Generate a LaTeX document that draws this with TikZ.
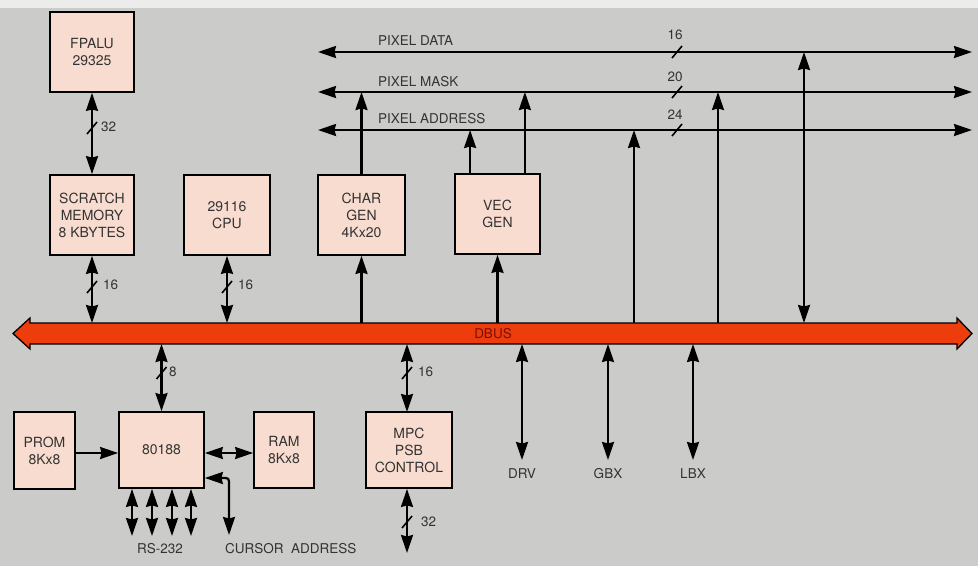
\documentclass[tikz,border=0pt]{standalone}
\usepackage{fontspec}
\setmainfont{TeX Gyre Heros}
\usetikzlibrary{arrows.meta}
\definecolor{bg}{HTML}{CBCBC9}
\definecolor{topstrip}{HTML}{ECECEA}
\definecolor{boxfill}{HTML}{F8DCCF}
\definecolor{txt}{HTML}{333333}
\definecolor{busred}{HTML}{EE3D0C}
\definecolor{bustxt}{HTML}{7A1005}
\begin{document}
\begin{tikzpicture}[x=1pt,y=-1pt,
  >={Stealth[length=18pt,width=12pt,inset=1.5pt]},
  box/.style={draw=black, line width=1.8pt, fill=boxfill, text=txt, align=center,
    inner sep=0pt, font=\fontsize{14}{17}\selectfont},
  conn/.style={line width=2.2pt, draw=black},
  lbl/.style={text=txt, font=\fontsize{13.5}{15}\selectfont, inner sep=0pt},
  busslash/.pic={\draw[line width=1.6pt] (-5,6) -- (5,-6);}
]
% background
\useasboundingbox (0,0) rectangle (978,566);
\fill[bg] (0,0) rectangle (978,566);
\fill[topstrip] (0,0) rectangle (978,8);

% DBUS
\filldraw[fill=busred, draw=black, line width=1.3pt]
  (13,333.5) -- (30,318) -- (30,323) -- (957,323) -- (957,318) -- (972,333.5)
  -- (957,349) -- (957,344) -- (30,344) -- (30,349) -- cycle;
\node[text=bustxt, font=\fontsize{13.5}{15}\selectfont, inner sep=0pt] (dbus) at (493,333.5) {DBUS};
\coordinate (dbt) at (0,323);
\coordinate (dbb) at (0,344);

% pixel buses
\coordinate (pdL) at (318,52);  \coordinate (pdR) at (972,52);
\coordinate (pmL) at (318,92);  \coordinate (pmR) at (972,92);
\coordinate (paL) at (318,130); \coordinate (paR) at (972,130);
\draw[conn,<->] (pdL) -- (pdR);
\draw[conn,<->] (pmL) -- (pmR);
\draw[conn,<->] (paL) -- (paR);
\node[lbl, anchor=west] (lpd) at (378,41) {PIXEL DATA};
\node[lbl, anchor=west] (lpm) at (378,82) {PIXEL MASK};
\node[lbl, anchor=west] (lpa) at (378,119) {PIXEL ADDRESS};
\pic at (677,52) {busslash};
\pic at (677,92) {busslash};
\pic at (677,130) {busslash};
\node[lbl] (w16) at (675,35) {16};
\node[lbl] (w20) at (675,77) {20};
\node[lbl] (w24) at (675,115) {24};

% upper boxes
\node[box, minimum width=84pt, minimum height=80pt] (fpalu) at (92,52) {FPALU\\29325};
\node[box, minimum width=84pt, minimum height=80pt] (scratch) at (92,215) {SCRATCH\\MEMORY\\8 KBYTES};
\node[box, minimum width=86pt, minimum height=80pt] (cpu) at (227,215) {29116\\CPU};
\node[box, minimum width=87pt, minimum height=80pt] (chargen) at (361.5,215) {CHAR\\GEN\\4Kx20};
\node[box, minimum width=85pt, minimum height=80pt] (vecgen) at (497.5,214) {VEC\\GEN};

% upper connectors
\draw[conn,<->] (fpalu.south) -- (scratch.north);
\pic at (92,128) {busslash};
\node[lbl, anchor=west] (l32a) at (101,127) {32};

\draw[conn,<->] (scratch.south) -- (scratch.south |- dbt);
\pic at (92,287) {busslash};
\node[lbl, anchor=west] (l16a) at (103,285) {16};

\draw[conn,<->] (cpu.south) -- (cpu.south |- dbt);
\pic at (227,287) {busslash};
\node[lbl, anchor=west] (l16b) at (238,285) {16};

\draw[conn,->] (chargen.south |- dbt) -- (chargen.south);
\draw[conn,->] (chargen.north) -- (chargen.north |- pmL);

\draw[conn,->] (vecgen.south |- dbt) -- (vecgen.south);
\draw[conn,->] ([xshift=16pt]vecgen.north west) -- ([xshift=16pt]vecgen.north west |- paL);
\draw[conn,->] ([xshift=-16pt]vecgen.north east) -- ([xshift=-16pt]vecgen.north east |- pmL);

\coordinate (tapA) at (634,323);
\coordinate (tapB) at (718,323);
\coordinate (tapC) at (804,323);
\draw[conn,->] (tapA) -- (tapA |- paL);
\draw[conn,->] (tapB) -- (tapB |- pmL);
\draw[conn,<->] (tapC |- pdL) -- (tapC);

% lower boxes
\node[box, minimum width=61pt, minimum height=77pt] (prom) at (44.5,450.5) {PROM\\8Kx8};
\node[box, minimum width=85pt, minimum height=76pt] (cpu2) at (161.5,450) {80188};
\node[box, minimum width=60pt, minimum height=76pt] (ram) at (284,450) {RAM\\8Kx8};
\node[box, minimum width=86pt, minimum height=76pt] (mpc) at (409,450) {MPC\\PSB\\CONTROL};

% lower connectors
\draw[conn,<->] (cpu2.north |- dbb) -- (cpu2.north);
\pic at (161.5,373) {busslash};
\node[lbl, anchor=west] (l8) at (169,372) {8};

\coordinate (mpcx) at (407,412);
\draw[conn,<->] (mpcx |- dbb) -- (mpcx);
\pic at (407,373) {busslash};
\node[lbl, anchor=west] (l16c) at (418,372) {16};

\coordinate (mpcend) at (407,553);
\draw[conn,<->] (mpcx |- mpc.south) -- (mpcend);
\pic at (407,522) {busslash};
\node[lbl, anchor=west] (l32b) at (421,522) {32};

\draw[conn,->] (prom.east |- 0,453) -- (cpu2.west |- 0,453);
\draw[conn,<->] (cpu2.east |- 0,453) -- (ram.west |- 0,453);

% RS-232
\foreach \xx/\nm in {132/ra,152/rb,172/rc,191/rd}{
  \coordinate (\nm) at (\xx,536);
  \draw[conn,<->] (\nm |- cpu2.south) -- (\nm);
}
\node[lbl] (rs) at (160,549) {RS-232};

% cursor address
\coordinate (curend) at (229,535);
\draw[conn,<->, rounded corners=3pt] (cpu2.east |- 0,478) -- (229,478) -- (curend);
\node[lbl, anchor=west] (cur) at (225,549) {CURSOR\ \ ADDRESS};

% DRV GBX LBX
\coordinate (drv) at (522,460);
\coordinate (gbx) at (608,460);
\coordinate (lbx) at (693,460);
\draw[conn,<->] (drv |- dbb) -- (drv);
\draw[conn,<->] (gbx |- dbb) -- (gbx);
\draw[conn,<->] (lbx |- dbb) -- (lbx);
\node[lbl] (ldrv) at (522,474) {DRV};
\node[lbl] (lgbx) at (608,474) {GBX};
\node[lbl] (llbx) at (693,474) {LBX};
\end{tikzpicture}
\end{document}
